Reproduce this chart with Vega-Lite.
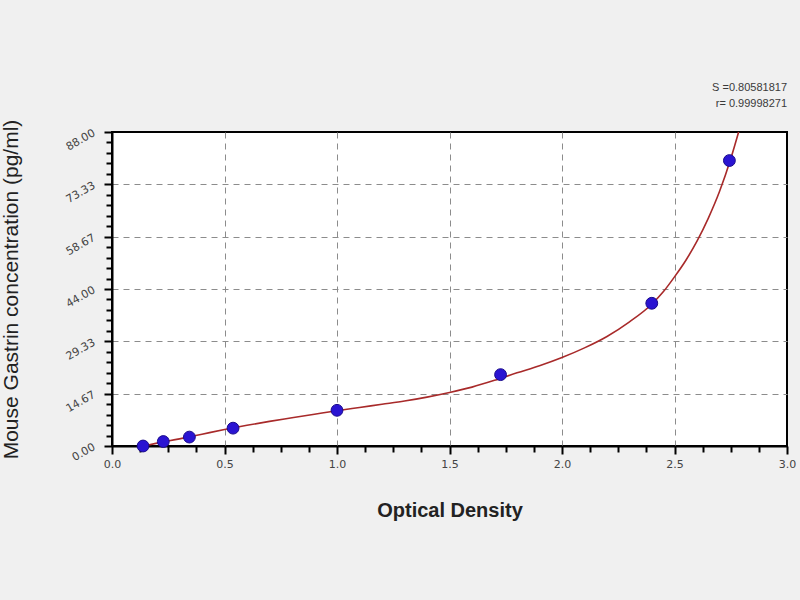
{
  "$schema": "https://vega.github.io/schema/vega-lite/v6.json",
  "width": 675,
  "height": 314,
  "autosize": {"type": "none"},
  "padding": {"left": 112, "top": 132, "right": 13, "bottom": 154},
  "background": "#f0f0f0",
  "title": {
    "text": "S =0.80581817",
    "subtitle": "r= 0.99998271",
    "anchor": "end",
    "frame": "group",
    "offset": 10,
    "font": "Liberation Sans",
    "fontSize": 11,
    "fontWeight": "normal",
    "color": "#3a3a3a",
    "subtitleFont": "Liberation Sans",
    "subtitleFontSize": 11,
    "subtitleColor": "#3a3a3a",
    "subtitlePadding": 5
  },
  "datasets": {
    "curve": [
      {"od": 0.14, "conc": 0.0},
      {"od": 0.2, "conc": 0.8},
      {"od": 0.3, "conc": 2.0},
      {"od": 0.4, "conc": 3.3},
      {"od": 0.5, "conc": 4.6},
      {"od": 0.6, "conc": 5.8},
      {"od": 0.7, "conc": 6.9},
      {"od": 0.8, "conc": 7.9},
      {"od": 0.9, "conc": 8.9},
      {"od": 1.0, "conc": 9.9},
      {"od": 1.1, "conc": 10.8},
      {"od": 1.2, "conc": 11.7},
      {"od": 1.3, "conc": 12.6},
      {"od": 1.4, "conc": 13.7},
      {"od": 1.5, "conc": 15.0},
      {"od": 1.6, "conc": 16.5},
      {"od": 1.7, "conc": 18.4},
      {"od": 1.8, "conc": 20.5},
      {"od": 1.9, "conc": 22.5},
      {"od": 2.0, "conc": 24.8},
      {"od": 2.1, "conc": 27.5},
      {"od": 2.2, "conc": 30.7},
      {"od": 2.3, "conc": 34.8},
      {"od": 2.4, "conc": 39.8},
      {"od": 2.45, "conc": 43.2},
      {"od": 2.5, "conc": 47.4},
      {"od": 2.55, "conc": 52.0},
      {"od": 2.6, "conc": 57.4},
      {"od": 2.65, "conc": 63.8},
      {"od": 2.7, "conc": 71.3},
      {"od": 2.75, "conc": 80.5},
      {"od": 2.785, "conc": 88.0}
    ],
    "standards": [
      {"od": 0.138, "conc": 0},
      {"od": 0.228, "conc": 1.25},
      {"od": 0.344, "conc": 2.5},
      {"od": 0.538, "conc": 5},
      {"od": 1.0, "conc": 10},
      {"od": 1.727, "conc": 20},
      {"od": 2.399, "conc": 40},
      {"od": 2.744, "conc": 80}
    ]
  },
  "encoding": {
    "x": {
      "field": "od",
      "type": "quantitative",
      "title": "Optical Density",
      "scale": {"domain": [0, 3], "nice": false, "zero": false},
      "axis": {
        "values": [0, 0.125, 0.25, 0.375, 0.5, 0.625, 0.75, 0.875, 1, 1.125, 1.25, 1.375, 1.5, 1.625, 1.75, 1.875, 2, 2.125, 2.25, 2.375, 2.5, 2.625, 2.75, 2.875, 3],
        "labelExpr": "abs(datum.value * 2 - round(datum.value * 2)) < 0.001 ? format(datum.value, '.1f') : ''",
        "tickSize": {"condition": {"test": "abs(datum.value * 2 - round(datum.value * 2)) < 0.001", "value": 8}, "value": 6},
        "gridOpacity": {"condition": {"test": "abs(datum.value * 2 - round(datum.value * 2)) < 0.001 && datum.value > 0.01 && datum.value < 2.99", "value": 1}, "value": 0},
        "labelFlush": false,
        "labelOverlap": false,
        "labelFontSize": 11,
        "titleFontSize": 20,
        "titleFontWeight": "bold",
        "titlePadding": 31
      }
    },
    "y": {
      "field": "conc",
      "type": "quantitative",
      "title": "Mouse Gastrin concentration (pg/ml)",
      "scale": {"domain": [0, 88], "nice": false},
      "axis": {
        "values": [0, 2.9333, 5.8667, 8.8, 11.7333, 14.6667, 17.6, 20.5333, 23.4667, 26.4, 29.3333, 32.2667, 35.2, 38.1333, 41.0667, 44, 46.9333, 49.8667, 52.8, 55.7333, 58.6667, 61.6, 64.5333, 67.4667, 70.4, 73.3333, 76.2667, 79.2, 82.1333, 85.0667, 88],
        "labelExpr": "abs(datum.value / 14.66667 - round(datum.value / 14.66667)) < 0.01 ? format(datum.value, '.2f') : ''",
        "tickSize": {"condition": {"test": "abs(datum.value / 14.66667 - round(datum.value / 14.66667)) < 0.01", "value": 8}, "value": 6},
        "gridOpacity": {"condition": {"test": "abs(datum.value / 14.66667 - round(datum.value / 14.66667)) < 0.01 && datum.value > 0.1 && datum.value < 87.9", "value": 1}, "value": 0},
        "labelAngle": -30,
        "labelAlign": "right",
        "labelBaseline": "middle",
        "labelFlush": false,
        "labelOverlap": false,
        "labelFontSize": 11,
        "labelPadding": 10,
        "titleFontSize": 21,
        "titleFontWeight": "normal",
        "titlePadding": 42
      }
    }
  },
  "layer": [
    {
      "data": {"name": "curve"},
      "mark": {"type": "line", "color": "#a82a2a", "strokeWidth": 1.6, "interpolate": "monotone", "clip": false}
    },
    {
      "data": {"name": "standards"},
      "mark": {"type": "point", "shape": "circle", "filled": true, "size": 140, "color": "#2a14d2", "stroke": "#1a0b8c", "strokeWidth": 1, "opacity": 1}
    }
  ],
  "config": {
    "view": {"fill": "#ffffff", "stroke": "#000000", "strokeWidth": 2},
    "axis": {
      "domainColor": "#000000",
      "domainWidth": 2,
      "tickColor": "#000000",
      "tickWidth": 2,
      "grid": true,
      "gridColor": "#8c8c8c",
      "gridDash": [6, 5],
      "gridWidth": 1,
      "labelFont": "DejaVu Sans",
      "labelColor": "#444444",
      "labelPadding": 4,
      "titleFont": "Liberation Sans",
      "titleColor": "#222222"
    }
  }
}
